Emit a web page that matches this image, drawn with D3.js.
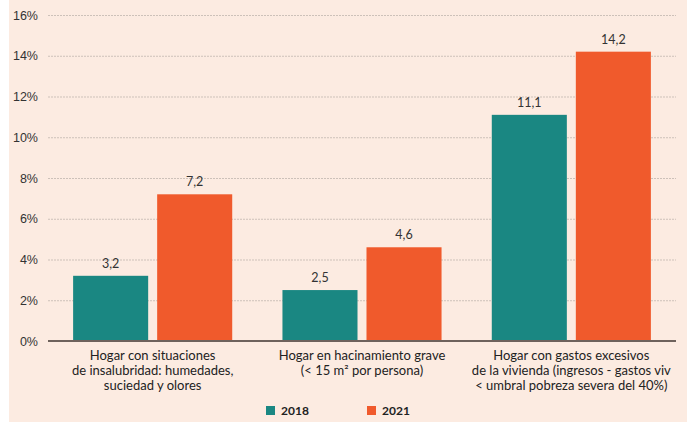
<!DOCTYPE html>
<html>
<head>
<meta charset="utf-8">
<script src="https://cdn.jsdelivr.net/npm/d3@7"></script>
<style>
  body { margin: 0; background: #fff; }
  svg { display: block; font-family: Lato, "Open Sans", sans-serif; }
</style>
</head>
<body>
<div id="container"></div>
<script>
/* DATA */
const categories = [
  ["Hogar con situaciones", "de insalubridad: humedades,", "suciedad y olores"],
  ["Hogar en hacinamiento grave", "(< 15 m² por persona)"],
  ["Hogar con gastos excesivos", "de la vivienda (ingresos - gastos viv", "< umbral pobreza severa del 40%)"]
];
const series = ["2018", "2021"];
const values2018 = [3.2, 2.5, 11.1];
const values2021 = [7.2, 4.6, 14.2];
const yTicks = [0, 2, 4, 6, 8, 10, 12, 14, 16];

/* CONSTANTS */
const width = 687;
const height = 422;
const colors = { "2018": "#1a8782", "2021": "#f05a2c" };
const margin = { top: 15, right: 11, bottom: 81, left: 48 };

const svg = d3.select("#container")
  .append("svg")
  .attr("width", width)
  .attr("height", height);

// background
svg.append("rect")
  .attr("x", 9).attr("y", 0)
  .attr("width", width - 9).attr("height", height)
  .attr("fill", "#fcebe1");

// SCALES
const x0 = d3.scaleBand()
  .domain(d3.range(categories.length))
  .range([margin.left, width - margin.right])
  .paddingInner(0.24)
  .paddingOuter(0.12);

const x1 = d3.scaleBand()
  .domain(series)
  .range([0, x0.bandwidth()])
  .paddingInner(0.107)
  .paddingOuter(0);

const y = d3.scaleLinear()
  .domain([0, 16])
  .range([height - margin.bottom, margin.top]);

// gridlines + y labels
const yAxis = svg.append("g")
  .attr("transform", `translate(${margin.left},0)`)
  .call(d3.axisLeft(y)
    .tickValues(yTicks)
    .tickSize(-(width - margin.left - margin.right))
    .tickPadding(10)
    .tickFormat(d => d + "%"));
yAxis.select(".domain").remove();
yAxis.selectAll(".tick line")
  .attr("stroke", "#cdc1b9")
  .attr("stroke-width", 1)
  .attr("stroke-dasharray", "2,1");
yAxis.selectAll(".tick text")
  .attr("fill", "#333")
  .style("font-size", "12.5px");

// bars
const rows = categories.map((c, i) => ({ i: i, vals: [values2018[i], values2021[i]] }));

const groups = svg.selectAll(".grp")
  .data(rows)
  .enter()
  .append("g")
  .attr("transform", d => `translate(${x0(d.i)},0)`);

groups.selectAll("rect")
  .data(d => series.map((s, k) => ({ s: s, v: d.vals[k] })))
  .enter()
  .append("rect")
  .attr("x", d => x1(d.s))
  .attr("y", d => y(d.v))
  .attr("width", x1.bandwidth())
  .attr("height", d => y(0) - y(d.v))
  .attr("fill", d => colors[d.s]);

groups.selectAll(".val")
  .data(d => series.map((s, k) => ({ s: s, v: d.vals[k] })))
  .enter()
  .append("text")
  .attr("x", d => x1(d.s) + x1.bandwidth() / 2)
  .attr("y", d => y(d.v) - 8)
  .attr("text-anchor", "middle")
  .attr("fill", "#333")
  .style("font-size", "12.5px")
  .text(d => String(d.v).replace(".", ","));

// x axis line
svg.append("line")
  .attr("x1", margin.left).attr("x2", width - margin.right)
  .attr("y1", y(0)).attr("y2", y(0))
  .attr("stroke", "#6e625c")
  .attr("stroke-width", 2);

// category labels
groups.append("text")
  .attr("text-anchor", "middle")
  .attr("fill", "#222")
  .style("font-size", "13px")
  .selectAll("tspan")
  .data(d => categories[d.i])
  .enter()
  .append("tspan")
  .attr("x", x0.bandwidth() / 2)
  .attr("y", (d, k) => y(0) + 19 + k * 15)
  .text(d => d);

// legend
const legend = svg.append("g")
  .selectAll("g")
  .data(series)
  .enter()
  .append("g")
  .attr("transform", (d, k) => `translate(${266 + k * 101},406)`);

legend.append("rect")
  .attr("width", 9).attr("height", 9)
  .attr("fill", d => colors[d]);

legend.append("text")
  .attr("x", 15).attr("y", 9)
  .attr("fill", "#222")
  .style("font-size", "12px")
  .style("font-weight", "bold")
  .text(d => d);
</script>
</body>
</html>
